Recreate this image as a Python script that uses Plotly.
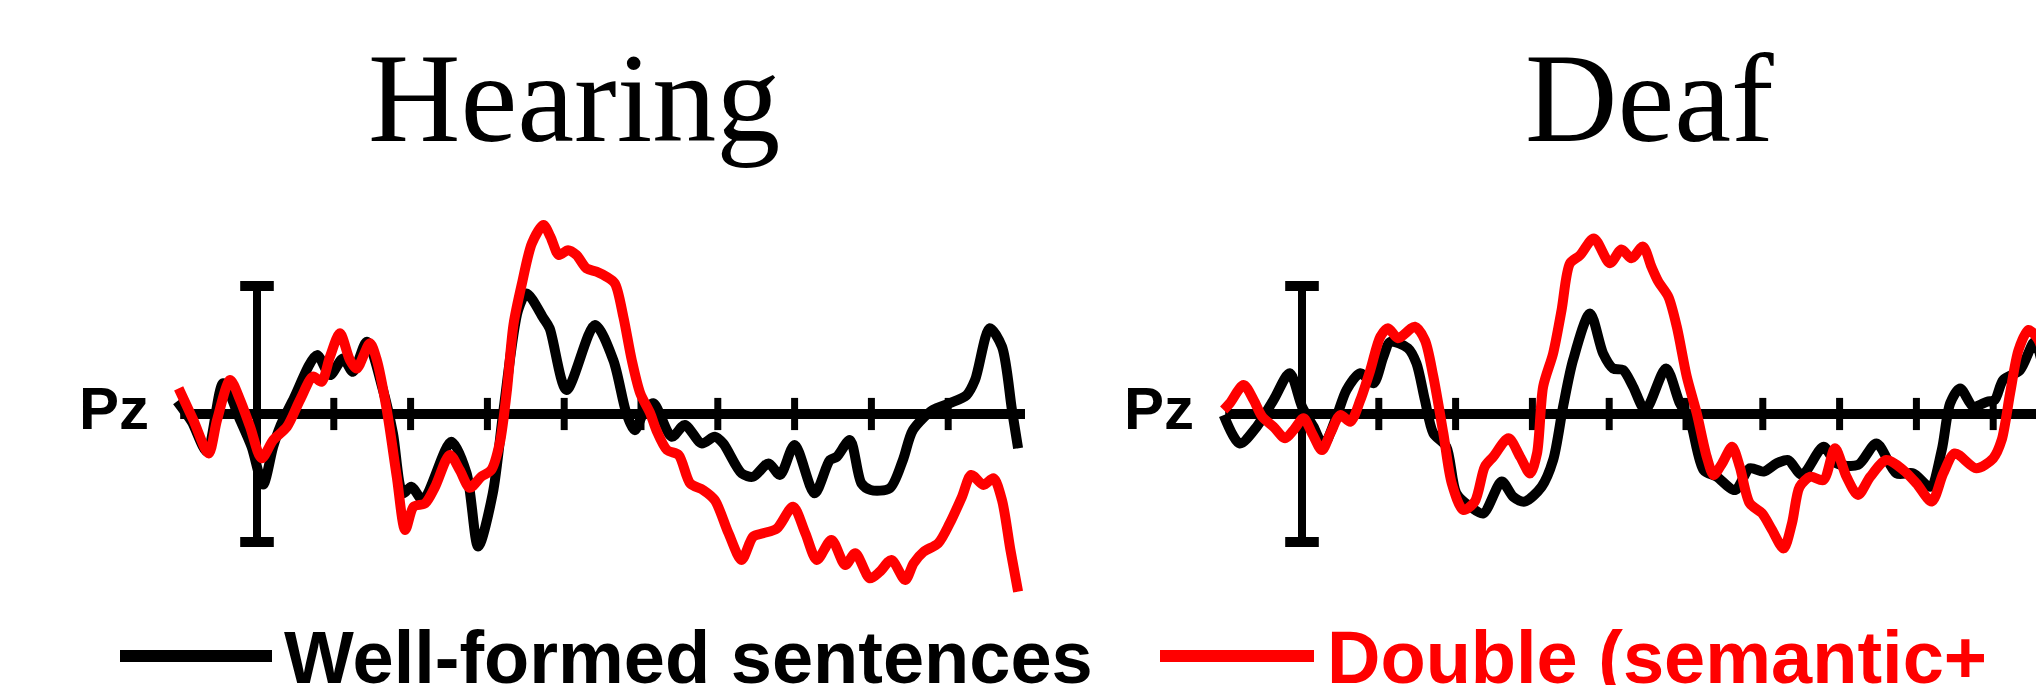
import plotly.graph_objects as go

# ---------------- data ----------------
panel_titles = ["Hearing", "Deaf"]
electrode_label = "Pz"
series_names = ["Well-formed sentences", "Double (semantic+"]
series_colors = ["#000000", "#ff0000"]

tick_ms = [100, 200, 300, 400, 500, 600, 700, 800, 900]
epoch_ms = [-100, 1000]
scale_bar_uv = [-5, 5]

hear_black_t = [-104, -85, -65, -44, -22, -7, 8, 21, 30, 47, 78, 95, 112, 125, 143, 164, 177, 190, 201, 216,
                253, 273, 288, 307, 321, 340, 351, 373, 381, 403, 440, 464, 481, 492, 503, 516, 540, 557, 579,
                596, 607, 631, 646, 666, 681, 700, 726, 746, 755, 772, 787, 799, 824, 841, 854, 880, 902, 924,
                935, 954, 970, 983, 991]
hear_black_v = [0.5, -0.3, -1.47, 1.2, -0.23, -1.28, -2.75, -1.28, -0.5, 0.55, 2.3, 1.52, 2.17, 1.65, 2.82, 0.94,
                -0.75, -3.1, -2.84, -3.36, -1.08, -2.32, -5.18, -3.1, 0.16, 4.06, 4.71, 3.74, 3.35, 0.94, 3.48,
                2.1, 0.03, -0.63, 0.03, 0.42, -0.89, -0.43, -1.15, -0.89, -1.15, -2.32, -2.45, -1.93, -2.38,
                -1.21, -3.1, -1.8, -1.67, -1.02, -2.71, -2.97, -2.9, -1.8, -0.63, 0.16, 0.42, 0.74, 1.33, 3.35,
                2.63, 0.16, -1.34]

hear_red_t = [-102, -83, -63, -52, -35, -22, -9, 6, 21, 39, 56, 73, 84, 95, 108, 121, 130, 147, 156, 169, 182,
              193, 204, 219, 232, 251, 264, 277, 292, 305, 316, 325, 334, 345, 358, 373, 382, 393, 405, 416, 429,
              442, 455, 466, 477, 488, 499, 512, 520, 534, 549, 564, 581, 596, 614, 631, 646, 659, 677, 698, 714,
              729, 748, 766, 779, 798, 811, 826, 844, 855, 868, 887, 902, 918, 930, 946, 959, 970, 981, 991]
hear_red_v = [1.0, -0.23, -1.54, -0.23, 1.33, 0.55, -0.5, -1.73, -1.02, -0.5, 0.55, 1.46, 1.26, 2.24, 3.15, 2.11,
              1.78, 2.76, 2.11, 0.16, -2.45, -4.53, -3.62, -3.49, -2.84, -1.6, -2.19, -2.88, -2.45, -2.19, -1.15,
              0.81, 3.5, 5.1, 6.67, 7.38, 6.93, 6.21, 6.4, 6.21, 5.69, 5.56, 5.36, 5.1, 3.8, 2.1, 0.81, 0.03,
              -0.63, -1.41, -1.6, -2.71, -2.97, -3.36, -4.66, -5.7, -4.79, -4.66, -4.47, -3.62, -4.66, -5.7,
              -4.92, -5.9, -5.44, -6.42, -6.16, -5.7, -6.48, -5.83, -5.38, -5.05, -4.27, -3.23, -2.38, -2.77,
              -2.51, -3.36, -5.31, -6.94]

deaf_black_t = [-102, -81, -59, -37, -16, 0, 15, 28, 45, 58, 76, 93, 106, 115, 138, 149, 160, 171, 188, 201, 219,
                236, 260, 275, 290, 312, 327, 340, 353, 375, 392, 405, 418, 431, 447, 474, 492, 505, 523, 540, 564,
                583, 601, 618, 633, 651, 679, 696, 724, 748, 774, 796, 818, 833, 844, 857, 874, 892, 902, 913, 935,
                954, 966, 980]
deaf_black_v = [-0.04, -1.15, -0.5, 0.55, 1.59, 0.29, -0.5, -1.21, -0.1, 0.94, 1.59, 1.2, 2.24, 2.82, 2.57, 1.98,
                0.55, -0.75, -1.28, -3.1, -3.62, -3.88, -2.64, -3.23, -3.42, -2.84, -1.8, 0.29, 2.11, 3.93, 2.37,
                1.78, 1.72, 1.07, 0.16, 1.78, 0.42, -0.23, -2.19, -2.45, -2.97, -2.12, -2.25, -1.93, -1.8, -2.38,
                -1.28, -1.93, -1.99, -1.15, -2.32, -2.32, -2.84, -1.41, 0.42, 1.0, 0.29, 0.48, 0.55, 1.33, 1.72,
                2.82, 1.72, 0.0]

deaf_red_t = [-102, -94, -76, -63, -52, -37, -22, -11, 2, 13, 26, 37, 50, 63, 76, 89, 102, 112, 125, 147, 160,
              171, 184, 195, 210, 225, 238, 249, 269, 284, 297, 306, 314, 327, 338, 349, 362, 380, 401, 416, 429,
              444, 455, 464, 477, 488, 501, 514, 527, 536, 547, 560, 570, 583, 599, 612, 627, 638, 648, 662, 679,
              694, 709, 724, 740, 761, 783, 800, 820, 835, 850, 878, 900, 911, 922, 933, 946, 959, 966, 980]
deaf_red_v = [0.16, 0.42, 1.13, 0.55, -0.1, -0.5, -0.95, -0.63, -0.17, -0.75, -1.41, -0.75, -0.04, -0.3, 0.55,
              1.72, 3.02, 3.35, 2.96, 3.41, 2.89, 1.46, -0.75, -2.71, -3.75, -3.42, -2.06, -1.67, -0.95, -1.67,
              -2.32, -1.54, 1.07, 2.37, 4.06, 5.89, 6.2, 6.86, 5.89, 6.43, 6.08, 6.54, 5.75, 5.17, 4.58, 3.41,
              1.46, 0.03, -1.67, -2.38, -1.93, -1.28, -2.06, -3.49, -3.88, -4.53, -5.25, -4.27, -2.84, -2.45,
              -2.58, -1.34, -2.45, -3.16, -2.45, -1.8, -2.19, -2.71, -3.42, -2.32, -1.54, -2.12, -1.73, -1.02,
              0.81, 2.5, 3.28, 2.89, 2.24, 0.5]

panels = [
    [(hear_black_t, hear_black_v), (hear_red_t, hear_red_v)],
    [(deaf_black_t, deaf_black_v), (deaf_red_t, deaf_red_v)],
]
for p in panels:
    for t, v in p:
        assert len(t) == len(v), (len(t), len(v))

# ---------------- layout geometry ----------------
# positions are given in page pixels; the page body has an 8px default margin,
# so the figure is made 8px smaller and everything is shifted back by 8px.
PAGE_W, PAGE_H = 2044, 685
OFF = 8
W, H = PAGE_W - OFF, PAGE_H - OFF
PX_PER_MS = 0.768
PX_PER_UV = 25.6
ORIGIN_PX = [257 - OFF, 1302 - OFF]
SPLIT_PX = 1045 - OFF
BASE_PX = 414 - OFF
domains_px = [(0, SPLIT_PX), (SPLIT_PX, W)]


def px_x(page_x):
    return (page_x - OFF) / W


def px_y(page_y):
    return 1 - (page_y - OFF) / H


fig = go.Figure()

for i, series in enumerate(panels):
    xa = "x" if i == 0 else "x2"
    ya = "y" if i == 0 else "y2"
    # baseline
    fig.add_trace(go.Scatter(x=epoch_ms, y=[0, 0], mode="lines",
                             line=dict(color="black", width=10), xaxis=xa, yaxis=ya,
                             showlegend=False, hoverinfo="skip"))
    # ticks
    fig.add_trace(go.Scatter(x=tick_ms, y=[0] * len(tick_ms), mode="markers",
                             marker=dict(symbol="line-ns", size=23, line=dict(color="black", width=7)),
                             xaxis=xa, yaxis=ya, showlegend=False, hoverinfo="skip"))
    # vertical scale bar
    fig.add_trace(go.Scatter(x=[0, 0], y=scale_bar_uv, mode="lines+markers",
                             line=dict(color="black", width=8),
                             marker=dict(symbol="line-ew", size=24, line=dict(color="black", width=10)),
                             xaxis=xa, yaxis=ya, showlegend=False, hoverinfo="skip"))
    # waveforms
    for (t, v), name, col in zip(series, series_names, series_colors):
        fig.add_trace(go.Scatter(x=t, y=v, mode="lines", name=name,
                                 line=dict(color=col, width=10, shape="spline", smoothing=0.8),
                                 xaxis=xa, yaxis=ya, showlegend=False))
    # electrode label
    fig.add_annotation(x=-186, y=0.2, xref=xa, yref=ya, text=electrode_label, showarrow=False,
                       font=dict(family="Liberation Sans, Arial", size=60, color="black", weight="bold"),
                       xanchor="center", yanchor="middle")

ymin = (BASE_PX - H) / PX_PER_UV
ymax = BASE_PX / PX_PER_UV
axis_common = dict(visible=False, showgrid=False, zeroline=False, fixedrange=True)
layout_axes = {}
for i, (d0, d1) in enumerate(domains_px):
    xr = [(d0 - ORIGIN_PX[i]) / PX_PER_MS, (d1 - ORIGIN_PX[i]) / PX_PER_MS]
    key = "xaxis" if i == 0 else "xaxis2"
    ykey = "yaxis" if i == 0 else "yaxis2"
    layout_axes[key] = dict(domain=[d0 / W, d1 / W], range=xr, anchor="y" if i == 0 else "y2", **axis_common)
    layout_axes[ykey] = dict(domain=[0, 1], range=[ymin, ymax], anchor="x" if i == 0 else "x2", **axis_common)

fig.update_layout(width=W, height=H, margin=dict(l=0, r=0, t=0, b=0),
                  paper_bgcolor="white", plot_bgcolor="white", showlegend=False, **layout_axes)

# panel titles
title_x_px = [574, 1649]
for txt, xp in zip(panel_titles, title_x_px):
    fig.add_annotation(x=px_x(xp), y=px_y(98), xref="paper", yref="paper", text=txt, showarrow=False,
                       font=dict(family="Liberation Serif, Times New Roman", size=128, color="black"),
                       xanchor="center", yanchor="middle")

# legend (drawn manually to match long sample lines)
leg_line_px = [(120, 272), (1160, 1314)]
leg_text_px = [282, 1325]
leg_y_px = 656
for (x0, x1), tx, name, col in zip(leg_line_px, leg_text_px, series_names, series_colors):
    fig.add_shape(type="line", xref="paper", yref="paper", x0=px_x(x0), x1=px_x(x1),
                  y0=px_y(leg_y_px), y1=px_y(leg_y_px), line=dict(color=col, width=12))
    fig.add_annotation(x=px_x(tx), y=px_y(657), xref="paper", yref="paper", text=name, showarrow=False,
                       font=dict(family="Liberation Sans, Arial", size=74, color=col, weight="bold"),
                       xanchor="left", yanchor="middle")

fig.write_html("out.html")
